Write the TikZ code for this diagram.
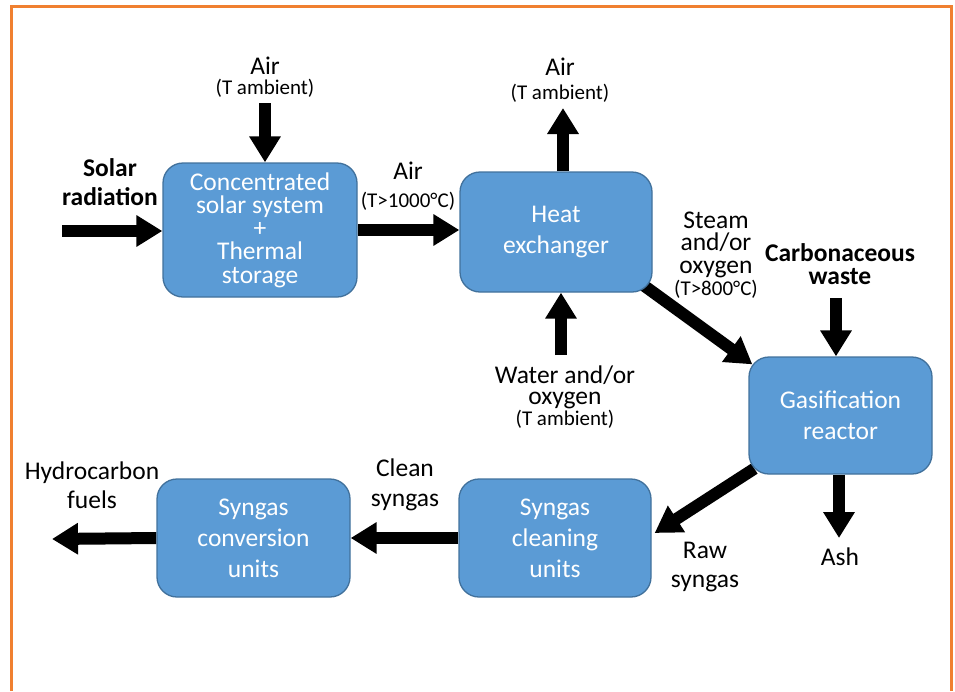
\documentclass[tikz,border=0pt]{standalone}
\usepackage{fontspec}
\setmainfont{Carlito}
\usetikzlibrary{arrows.meta}
\definecolor{boxblue}{RGB}{91,155,213}
\definecolor{boxedge}{RGB}{65,113,156}
\definecolor{frameorange}{RGB}{240,128,48}
\pgfdeclarelayer{bg}
\pgfsetlayers{bg,main}
\tikzset{
  box/.style={rounded corners=20pt, fill=boxblue, draw=boxedge, line width=1.3pt,
    text=white, align=center, inner sep=0pt, font=\fontsize{25.5}{31}\selectfont},
  lbl/.style={align=center, inner sep=0pt, font=\fontsize{25.5}{29.5}\selectfont},
  fat/.style={line width=12pt, -{Triangle[length=26pt,width=30pt]}}
}
\newcommand{\sm}{\fontsize{21}{21}\selectfont}
\begin{document}
\begin{tikzpicture}[x=1pt,y=-1pt]
\useasboundingbox (0,0) rectangle (955,691);
% frame
\draw[frameorange, line width=3pt] (11,691) -- (11,6) -- (951,6) -- (951,691);
% boxes
\node[box, minimum width=194pt, minimum height=134pt, font=\fontsize{25.5}{23.3}\selectfont] (css) at (260,230)
  {Concentrated\\solar system\\+\\Thermal\\storage};
\node[box, minimum width=192pt, minimum height=120pt] (hx) at (556,232) {Heat\\exchanger};
\node[box, minimum width=183pt, minimum height=117pt] (gr) at (840.5,415.5) {Gasification\\reactor};
\node[box, minimum width=192pt, minimum height=118pt] (scu) at (555,538) {Syngas\\cleaning\\units};
\node[box, minimum width=193pt, minimum height=118pt] (scv) at (253.5,538) {Syngas\\conversion\\units};
% labels
\node[lbl, font=\fontsize{25.5}{20}\selectfont] (lairin) at (265,77) {Air\\{\sm (T ambient)}};
\node[lbl, font=\bfseries\fontsize{25.5}{29}\selectfont] (lsolar) at (110,182) {Solar\\radiation};
\node[lbl, font=\fontsize{25.5}{28}\selectfont] (lairhot) at (408,186) {Air\\{\sm (T>1000°C)}};
\node[lbl, font=\fontsize{25.5}{24}\selectfont] (lairout) at (560,80) {Air\\{\sm (T ambient)}};
\node[lbl, font=\fontsize{25.5}{22.5}\selectfont] (lsteam) at (716,255) {Steam\\and/or\\oxygen\\{\sm (T>800°C)}};
\node[lbl, font=\bfseries\fontsize{25.5}{23}\selectfont] (lcarb) at (840,264) {Carbonaceous\\waste};
\node[lbl, font=\fontsize{25.5}{21}\selectfont] (lwater) at (565,397) {Water and/or\\oxygen\\{\sm (T ambient)}};
\node[lbl] (lhydro) at (92,485) {Hydrocarbon\\fuels};
\node[lbl] (lclean) at (405,485) {Clean\\syngas};
\node[lbl] (lraw) at (705,567) {Raw\\syngas};
\node[lbl] (lash) at (840,557) {Ash};
% free ends
\coordinate (solarstart) at (62,231);
\coordinate (airin) at (265,103);
\coordinate (airout) at (563,108);
\coordinate (waterin) at (561,355);
\coordinate (carbin) at (836,298);
\coordinate (ashout) at (839,538);
\coordinate (fuelout) at (52,539);
\begin{pgfonlayer}{bg}
\draw[fat] (solarstart) -- (solarstart -| css.west);
\draw[fat] (airin) -- (airin |- css.north);
\draw[fat] (css.east) -- (css.east -| hx.west);
\draw[fat] (airout |- hx.north) -- (airout);
\draw[fat] (waterin) -- (waterin |- hx.south);
\draw[fat] ([shift={(-10,-8)}]hx.south east) -- ([shift={(4,8)}]gr.north west);
\draw[fat] (carbin) -- (carbin |- gr.north);
\draw[fat] ([shift={(6,-6)}]gr.south west) -- ([shift={(3,-5)}]scu.east);
\draw[fat] (ashout |- gr.south) -- (ashout);
\draw[fat] (scu.west) -- (scv.east);
\draw[fat] (scv.west) -- (fuelout);
\end{pgfonlayer}
\end{tikzpicture}
\end{document}
